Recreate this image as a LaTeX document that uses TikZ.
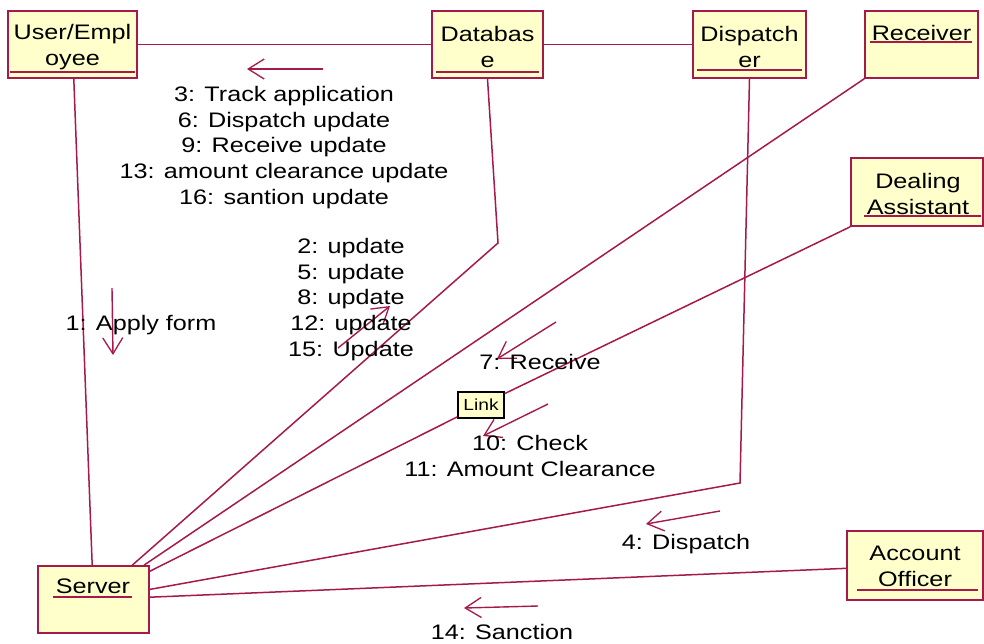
\documentclass[tikz,border=0pt]{standalone}
\usepackage{fontspec}
\setmainfont{Liberation Sans}[FakeStretch=1.2]
\usetikzlibrary{arrows.meta}
\definecolor{linkred}{RGB}{165,25,75}
\definecolor{objfill}{RGB}{255,255,204}

\begin{document}
\begin{tikzpicture}[x=1pt, y=-1pt,
  obj/.style={draw=linkred, fill=objfill, line width=1.6pt, inner sep=0pt},
  objname/.style={font=\fontsize{21}{25.8}\selectfont, align=center, inner sep=0pt},
  msgtext/.style={font=\fontsize{21}{25.8}\selectfont, align=center, inner sep=0pt},
  assoc/.style={draw=linkred, line width=1.5pt},
  uline/.style={draw=linkred, line width=1.5pt},
  msg/.style={draw=linkred, line width=1.4pt, -{Straight Barb[length=16pt,width=20pt,line width=1.3pt]}}]
\useasboundingbox (0,0) rectangle (984,643);

\node[obj, minimum width=129pt, minimum height=67pt] (user) at (72.5,44.5) {};
\node[obj, minimum width=111pt, minimum height=67pt] (db) at (487.5,44.5) {};
\node[obj, minimum width=113pt, minimum height=67pt] (disp) at (749.5,44.5) {};
\node[obj, minimum width=113pt, minimum height=67pt] (recv) at (921.5,44.5) {};
\node[obj, minimum width=132pt, minimum height=68pt] (deal) at (917,192) {};
\node[obj, minimum width=136pt, minimum height=69pt] (acct) at (915,565.5) {};
\node[obj, minimum width=111pt, minimum height=67pt] (server) at (93.5,599.5) {};
\node[draw=black, fill=objfill, line width=1.2pt, minimum width=46pt, minimum height=26pt, inner sep=0pt, font=\fontsize{16}{18}\selectfont] (link) at (481,405) {Link};

\node[objname] (userT) at (72.5,47) {User/Empl\\oyee};
\node[objname] (dbT) at (487.5,47) {Databas\\e};
\node[objname] (dispT) at (749.5,47) {Dispatch\\er};
\node[objname] (recvT) at (921.5,33) {Receiver};
\node[objname] (dealT) at (918,194) {Dealing\\Assistant};
\node[objname] (acctT) at (915,566.5) {Account\\Officer};
\node[objname] (serverT) at (93,586) {Server};

\draw[uline] (10,72) -- (135,72);
\draw[uline] (436,72) -- (539,72);
\draw[uline] (697,70) -- (802,70);
\draw[uline] (870,42) -- (972,42);
\draw[uline] (864,216) -- (981,216);
\draw[uline] (857,590) -- (978,590);
\draw[uline] (53,597) -- (132,597);

\coordinate (dbbend) at (498,243);
\coordinate (dispbend) at (740,483);
\draw[assoc] (user) -- (db);
\draw[assoc] (db) -- (disp);
\draw[assoc] (user) -- (server);
\draw[assoc] (db.south) -- (dbbend) -- (server);
\draw[assoc] (recv.south west) -- (server);
\draw[assoc] (deal.south west) -- (link) -- (server);
\draw[assoc] (disp.south) -- (dispbend) -- (server);
\draw[assoc] (acct) -- (server);

\coordinate (m1a) at (112,288);
\coordinate (m1b) at (113,355);
\draw[msg] (m1a) -- (m1b);
\node[msgtext] (m1) at (141,325) {1: Apply form};

\coordinate (m2a) at (338,348);
\coordinate (m2b) at (390,306);
\draw[msg] (m2a) -- (m2b);
\node[msgtext] (m2) at (351,299.5) {2: update\\5: update\\8: update\\12: update\\15: Update};

\coordinate (m3a) at (323,69);
\coordinate (m3b) at (247,69);
\draw[msg] (m3a) -- (m3b);
\node[msgtext] (m3) at (284,147.5) {3: Track application\\6: Dispatch update\\9: Receive update\\13: amount clearance update\\16: santion update};

\coordinate (m4a) at (720,511);
\coordinate (m4b) at (646,524);
\draw[msg] (m4a) -- (m4b);
\node[msgtext] (m4) at (686,544) {4: Dispatch};

\coordinate (m7a) at (556,322);
\coordinate (m7b) at (497,359);
\draw[msg] (m7a) -- (m7b);
\node[msgtext] (m7) at (540,362) {7: Receive};

\coordinate (m10a) at (548,404);
\coordinate (m10b) at (483,436);
\draw[msg] (m10a) -- (m10b);
\node[msgtext] (m10) at (530,456) {10: Check\\11: Amount Clearance};

\coordinate (m14a) at (538,606);
\coordinate (m14b) at (464,608);
\draw[msg] (m14a) -- (m14b);
\node[msgtext] (m14) at (502,632) {14: Sanction};
\end{tikzpicture}
\end{document}
